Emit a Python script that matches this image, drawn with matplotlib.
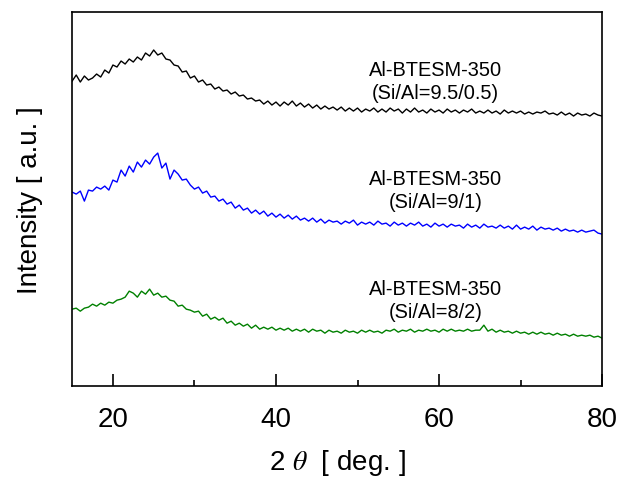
import numpy as np
import matplotlib
matplotlib.use("Agg")
import matplotlib.pyplot as plt

plt.rcParams["font.family"] = ["Liberation Sans", "DejaVu Sans"]
plt.rcParams["mathtext.fontset"] = "stix"

# 2-theta grid, 15..80 deg in 0.5 deg steps
two_theta = np.arange(15.0, 80.01, 0.5)

# intensities (arbitrary units, already offset)
si_al_95_05 = [
    305, 311, 304, 310, 306, 308, 312, 309, 316, 313,
    321, 319, 325, 322, 327, 324, 329, 326, 333, 330,
    336, 331, 333, 327, 326, 321, 320, 314, 315, 308,
    310, 304, 306, 301, 302, 297, 299, 295, 296, 292,
    294, 290, 291, 287, 288, 285, 286, 282, 285, 281,
    284, 280, 284, 281, 285, 280, 283, 279, 282, 278,
    281, 277, 280, 277, 279, 276, 279, 275, 278, 275,
    278, 274, 277, 275, 278, 274, 277, 274, 278, 275,
    277, 273, 277, 274, 278, 274, 276, 273, 277, 274,
    276, 273, 277, 274, 276, 273, 276, 274, 277, 273,
    275, 273, 276, 273, 275, 272, 276, 273, 275, 273,
    275, 272, 274, 272, 274, 273, 275, 272, 273, 271,
    274, 271, 273, 270, 273, 271, 272, 270, 273, 271,
    270,
]
si_al_9_1 = [
    194, 192, 195, 185, 196, 195, 199, 197, 200, 196,
    206, 204, 216, 210, 220, 214, 224, 219, 226, 222,
    229, 233, 218, 223, 207, 216, 212, 206, 207, 201,
    197, 199, 193, 195, 189, 190, 185, 187, 182, 184,
    178, 181, 176, 178, 173, 176, 172, 175, 170, 173,
    169, 172, 168, 171, 167, 170, 166, 168, 165, 168,
    164, 167, 163, 166, 164, 165, 162, 165, 163, 166,
    161, 164, 162, 164, 161, 165, 162, 163, 160, 164,
    161, 163, 160, 163, 161, 164, 160, 162, 159, 163,
    160, 162, 159, 162, 160, 161, 158, 162, 159, 161,
    158, 162, 159, 160, 158, 161, 158, 160, 157, 161,
    157, 159, 157, 160, 156, 159, 157, 158, 156, 158,
    155, 157, 155, 156, 154, 156, 154, 155, 156, 153,
    152,
]
si_al_8_2 = [
    77, 78, 75, 78, 79, 82, 80, 83, 81, 84,
    83, 86, 87, 89, 95, 93, 89, 95, 92, 97,
    91, 93, 89, 90, 86, 85, 80, 81, 77, 76,
    74, 75, 70, 72, 67, 69, 66, 68, 63, 65,
    61, 63, 60, 62, 58, 61, 57, 59, 57, 59,
    56, 58, 56, 58, 55, 57, 55, 57, 54, 57,
    55, 56, 53, 56, 54, 55, 53, 56, 54, 55,
    53, 56, 54, 56, 54, 55, 53, 56, 55, 57,
    54, 56, 55, 57, 54, 56, 55, 57, 55, 56,
    54, 57, 55, 57, 55, 56, 55, 57, 55, 56,
    56, 61, 55, 57, 54, 56, 54, 55, 53, 55,
    53, 54, 52, 54, 52, 54, 52, 53, 51, 53,
    51, 52, 50, 52, 50, 51, 50, 51, 49, 50,
    48,
]

series = [
    (si_al_95_05, "black", "Al-BTESM-350\n(Si/Al=9.5/0.5)", 305),
    (si_al_9_1, "blue", "Al-BTESM-350\n(Si/Al=9/1)", 196),
    (si_al_8_2, "green", "Al-BTESM-350\n(Si/Al=8/2)", 86),
]

fig = plt.figure(figsize=(6.22, 4.81), dpi=100)
ax = fig.add_axes([0.116, 0.195, 0.852, 0.778])

for y, color, label, ylab in series:
    ax.plot(two_theta, y, color=color, lw=1.0)
    ax.text(59.6, ylab, label, ha="center", va="center", fontsize=14.4,
            linespacing=1.25)

ax.set_xlim(15, 80)
ax.set_ylim(0, 374)
ax.set_xticks([20, 40, 60, 80])
ax.set_xticks([30, 50, 70], minor=True)
ax.set_yticks([])
ax.tick_params(axis="x", which="major", direction="in", length=9, width=1.2,
               labelsize=20, pad=14)
ax.tick_params(axis="x", which="minor", direction="in", length=4, width=1.2)
for s in ax.spines.values():
    s.set_linewidth(1.2)

ax.set_xlabel("2 $\\theta$  [ deg. ]", fontsize=20, labelpad=11)
ax.set_ylabel("Intensity [ a.u. ]", fontsize=20, labelpad=21)

fig.savefig("out.png", dpi=100)
